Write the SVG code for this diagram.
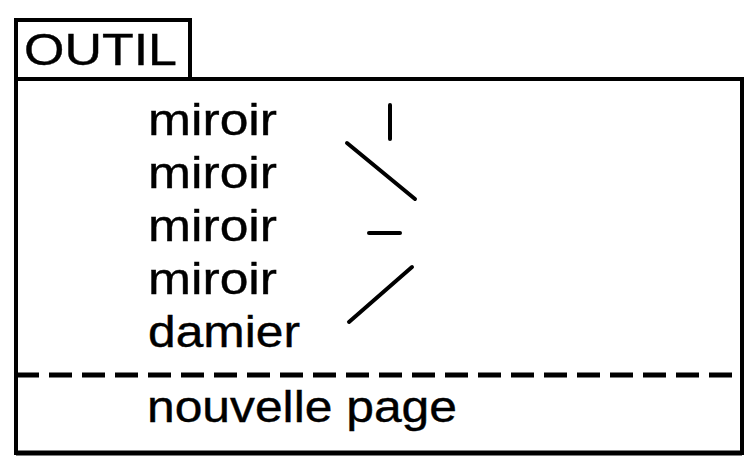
<svg xmlns="http://www.w3.org/2000/svg" width="747" height="458" viewBox="0 0 747 458">
<style>
.t{font-family:"Liberation Sans",Arial,sans-serif;font-size:45px;fill:#000;stroke:#000;stroke-width:0.4}
.b{fill:none;stroke:#000;stroke-width:4}
.m{stroke:#000;stroke-width:4;stroke-linecap:round;fill:none}
</style>
<rect width="747" height="458" fill="#fff"/>
<g id="title">
<rect class="b" x="16" y="20" width="174" height="59"/>
<text class="t" x="24" y="65" textLength="153" lengthAdjust="spacingAndGlyphs">OUTIL</text>
</g>
<g id="frame">
<polyline class="b" points="16,79 742,79 742,453 16,453 16,79"/>
<line x1="16" y1="453" x2="742" y2="453" stroke="#000" stroke-width="5"/>
<line x1="16" y1="375" x2="742" y2="375" stroke="#000" stroke-width="5" stroke-dasharray="23 10"/>
</g>
<g id="items">
<text class="t" x="148" y="135" textLength="129" lengthAdjust="spacingAndGlyphs">miroir</text>
<text class="t" x="148" y="188" textLength="129" lengthAdjust="spacingAndGlyphs">miroir</text>
<text class="t" x="148" y="241" textLength="129" lengthAdjust="spacingAndGlyphs">miroir</text>
<text class="t" x="148" y="294" textLength="129" lengthAdjust="spacingAndGlyphs">miroir</text>
<text class="t" x="148" y="347" textLength="152" lengthAdjust="spacingAndGlyphs">damier</text>
<text class="t" x="147" y="422" textLength="310" lengthAdjust="spacingAndGlyphs">nouvelle page</text>
</g>
<g id="connectors">
<line class="m" x1="390" y1="105" x2="390" y2="139"/>
<line class="m" x1="347" y1="143" x2="415" y2="199"/>
<line class="m" x1="369" y1="233" x2="400" y2="233"/>
<line class="m" x1="412" y1="267" x2="349" y2="322"/>
</g>
</svg>
